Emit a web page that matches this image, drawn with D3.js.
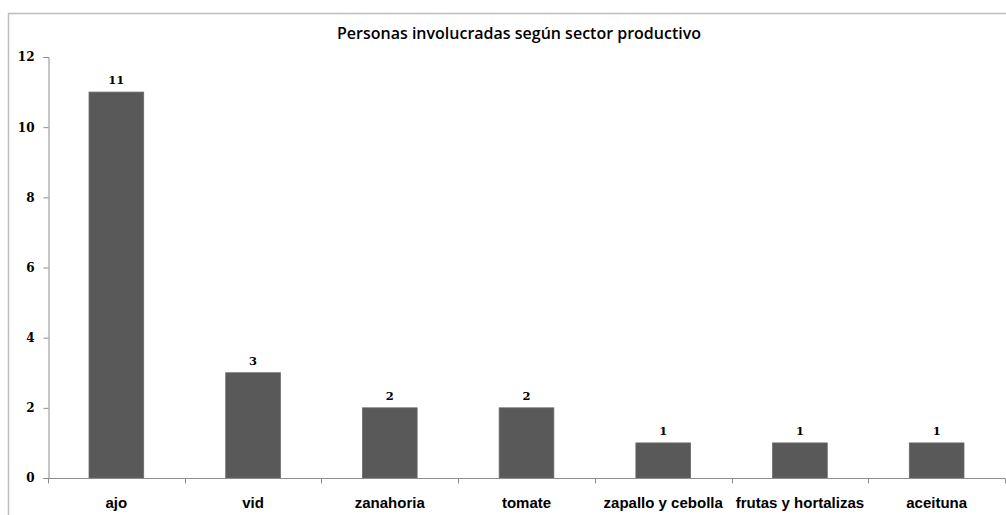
<!DOCTYPE html>
<html>
<head>
<meta charset="utf-8">
<script src="https://cdn.jsdelivr.net/npm/d3@7"></script>
<style>
  body { margin: 0; background: #fff; }
  svg { display: block; }
</style>
</head>
<body>
<div id="chart"></div>
<script>
var categories = ['ajo', 'vid', 'zanahoria', 'tomate', 'zapallo y cebolla', 'frutas y hortalizas', 'aceituna'];
var values = [11, 3, 2, 2, 1, 1, 1];
var yTicks = [0, 2, 4, 6, 8, 10, 12];
var title = 'Personas involucradas según sector productivo';

var width = 1006, height = 515;
var margin = { left: 48, right: 1, top: 57, bottom: 37 };

var svg = d3.select('#chart').append('svg')
    .attr('width', width)
    .attr('height', height);

// outer chart frame (only top and left visible in the crop)
svg.append('path')
    .attr('d', 'M8.5,' + height + ' V13.5 H' + width)
    .attr('fill', 'none')
    .attr('stroke', '#bdbdbd')
    .attr('stroke-width', 1.5);

svg.append('text')
    .text(title)
    .attr('x', 519)
    .attr('y', 39)
    .attr('text-anchor', 'middle')
    .attr('font-family', 'Open Sans')
    .attr('font-weight', 600)
    .attr('font-size', 16)
    .attr('fill', '#000');

var x = d3.scaleBand()
    .domain(categories)
    .range([margin.left, width - margin.right])
    .paddingInner(0.6)
    .paddingOuter(0.3);

var y = d3.scaleLinear()
    .domain([0, 12])
    .range([height - margin.bottom, margin.top]);

var g = svg.append('g');

// y axis
var yAxis = g.append('g')
    .attr('transform', 'translate(' + (margin.left + 0.5) + ',0)')
    .call(d3.axisLeft(y).tickValues(yTicks).tickSize(5).tickPadding(9));
yAxis.select('.domain').attr('stroke', '#8c8c8c');
yAxis.selectAll('.tick line').attr('stroke', '#8c8c8c');
yAxis.selectAll('.tick text')
    .attr('font-family', 'DejaVu Serif')
    .attr('font-weight', 'bold')
    .attr('font-size', 12)
    .attr('fill', '#000');

// bars
g.selectAll('.bar')
    .data(values)
    .enter()
    .append('rect')
    .attr('class', 'bar')
    .attr('x', function (d, i) { return x(categories[i]); })
    .attr('y', function (d) { return y(d); })
    .attr('width', x.bandwidth())
    .attr('height', function (d) { return y(0) - y(d); })
    .attr('fill', '#595959')
    .attr('stroke', '#6a6a6a')
    .attr('stroke-width', 0.8);

// value labels
g.selectAll('.val')
    .data(values)
    .enter()
    .append('text')
    .attr('class', 'val')
    .text(function (d) { return d; })
    .attr('x', function (d, i) { return x(categories[i]) + x.bandwidth() / 2; })
    .attr('y', function (d) { return y(d) - 8; })
    .attr('text-anchor', 'middle')
    .attr('font-family', 'DejaVu Serif')
    .attr('font-weight', 'bold')
    .attr('font-size', 11.5)
    .attr('fill', '#000');

// x axis with ticks between categories
var boundaries = d3.range(categories.length + 1).map(function (i) {
    return margin.left + i * (width - margin.right - margin.left) / categories.length;
});
var xAxis = g.append('g').attr('transform', 'translate(0,' + (y(0) + 0.5) + ')');
xAxis.append('line')
    .attr('x1', margin.left)
    .attr('x2', width - margin.right)
    .attr('stroke', '#8c8c8c');
xAxis.selectAll('.xt')
    .data(boundaries)
    .enter()
    .append('line')
    .attr('x1', function (d) { return Math.round(d) + 0.5; })
    .attr('x2', function (d) { return Math.round(d) + 0.5; })
    .attr('y1', 0)
    .attr('y2', 5)
    .attr('stroke', '#8c8c8c');
xAxis.selectAll('.xl')
    .data(categories)
    .enter()
    .append('text')
    .text(function (d) { return d; })
    .attr('x', function (d) { return x(d) + x.bandwidth() / 2; })
    .attr('y', 29)
    .attr('text-anchor', 'middle')
    .attr('font-family', 'Liberation Sans')
    .attr('font-weight', 'bold')
    .attr('font-size', 15)
    .attr('fill', '#000');
</script>
</body>
</html>
